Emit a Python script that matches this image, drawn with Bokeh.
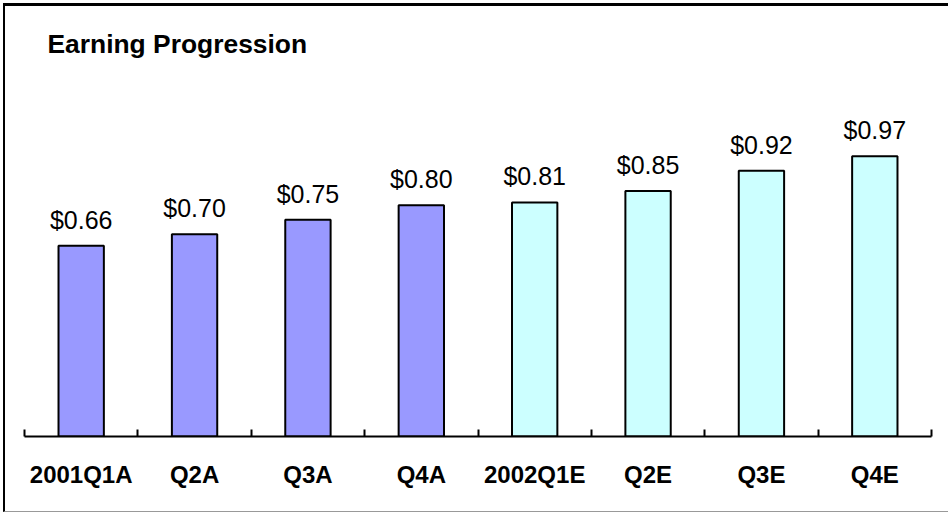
from bokeh.plotting import figure
from bokeh.models import Range1d, FixedTicker, LinearAxis, ColumnDataSource
from bokeh.transform import factor_cmap
from bokeh.embed import file_html
from bokeh.resources import INLINE
from bokeh.core.properties import value

# ---- data ----
categories = ["2001Q1A", "Q2A", "Q3A", "Q4A", "2002Q1E", "Q2E", "Q3E", "Q4E"]
eps = [0.66, 0.70, 0.75, 0.80, 0.81, 0.85, 0.92, 0.97]
kind = ["Actual", "Actual", "Actual", "Actual", "Estimate", "Estimate", "Estimate", "Estimate"]
kinds = ["Actual", "Estimate"]
title_text = "Earning Progression"

n = len(categories)
xc = [i + 0.5 for i in range(n)]
labels = ["$%.2f" % v for v in eps]

src = ColumnDataSource(dict(x=xc, eps=eps, kind=kind, label=labels))

FONT = "Liberation Sans"

p = figure(width=948, height=514, output_backend="svg", toolbar_location=None,
           x_range=Range1d(0, n), y_range=Range1d(0, 1.291),
           x_axis_type=None, y_axis_type=None,
           min_border_left=24, min_border_right=17, min_border_top=63, min_border_bottom=78)
p.grid.visible = False
p.outline_line_color = None
p.background_fill_color = "white"
p.border_fill_color = "white"

# picture frame (top/left black, bottom grey) drawn over the canvas
p.stylesheets = [""":host { position: relative; }
:host::after { content: ''; position: absolute; left: 3px; top: 3px; right: -4px; bottom: 2px;
  border-top: 3px solid #000; border-left: 2px solid #000; border-bottom: 1px solid #999;
  box-sizing: border-box; pointer-events: none; z-index: 100; }"""]

p.title.text = title_text
p.title.text_font = FONT
p.title.text_font_size = "26.4px"
p.title.text_font_style = "bold"
p.title.text_color = "black"
p.title.align = "left"
p.title.offset = 23

p.vbar(x="x", top="eps", bottom=0, width=0.4, source=src,
       fill_color=factor_cmap("kind", palette=["#9999FF", "#CCFFFF"], factors=kinds),
       line_color="black", line_width=2)

p.text(x="x", y="eps", text="label", source=src, text_align="center",
       text_baseline="alphabetic", y_offset=-26,
       text_font=value(FONT), text_font_size="25px", text_color="black")

xaxis = LinearAxis(ticker=FixedTicker(ticks=xc, minor_ticks=list(range(n + 1))),
                   major_label_overrides={x: c for x, c in zip(xc, categories)},
                   axis_line_color="black", axis_line_width=2,
                   major_tick_line_color=None, major_tick_in=0, major_tick_out=0,
                   minor_tick_line_color="black", minor_tick_line_width=2,
                   minor_tick_in=7, minor_tick_out=0,
                   major_label_standoff=24,
                   major_label_text_font=FONT, major_label_text_font_size="24px",
                   major_label_text_font_style="bold", major_label_text_color="black")
p.add_layout(xaxis, "below")

open("out.html", "w").write(file_html(p, INLINE))
